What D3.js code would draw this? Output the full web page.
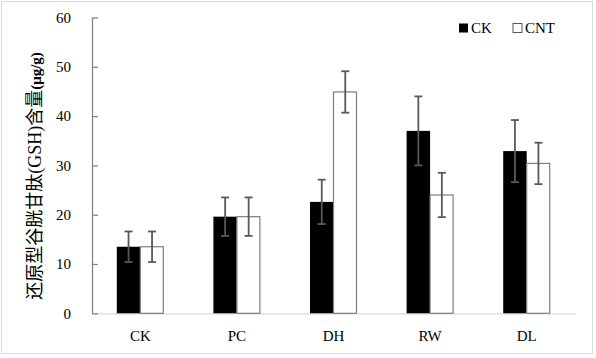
<!DOCTYPE html>
<html>
<head>
<meta charset="utf-8">
<script src="https://cdn.jsdelivr.net/npm/d3@7"></script>
<style>
  html, body { margin: 0; padding: 0; background: #fff; }
  svg { display: block; }
  .serif { font-family: "Liberation Serif", "Times New Roman", Times, serif; }
  .cjk { font-family: "Noto Sans CJK SC", sans-serif; }
</style>
</head>
<body>
<svg id="chart" width="596" height="358"></svg>
<script>
const categories = ["CK", "PC", "DH", "RW", "DL"];
const seriesNames = ["CK", "CNT"];
const ckValues = [13.5, 19.6, 22.6, 37.0, 32.9];
const ckErrors = [3.1, 3.9, 4.5, 7.0, 6.3];
const cntValues = [13.5, 19.6, 44.9, 24.0, 30.4];
const cntErrors = [3.1, 3.9, 4.2, 4.5, 4.2];
const yTicks = [0, 10, 20, 30, 40, 50, 60];

const svg = d3.select("#chart");

// chart border
svg.append("rect").attr("x", 1.5).attr("y", 1.5).attr("width", 591).attr("height", 352)
  .attr("fill", "#fff").attr("stroke", "#d9d9d9").attr("stroke-width", 1);

const x0 = 92, x1 = 575, yBottom = 313.3, yTop = 17.5;
const x = d3.scaleBand().domain(categories).range([x0, x1]).paddingInner(0).paddingOuter(0);
const y = d3.scaleLinear().domain([0, 60]).range([yBottom, yTop]);
const barW = 23.5;
const xs = d3.scaleBand().domain(seriesNames).range([-barW, barW]);

const series = [
  { name: "CK", values: ckValues, errors: ckErrors, fill: "#000000", stroke: "#000000" },
  { name: "CNT", values: cntValues, errors: cntErrors, fill: "#ffffff", stroke: "#7f7f7f" }
];

// x axis
const xAxis = svg.append("g").attr("transform", `translate(0,${yBottom})`)
  .call(d3.axisBottom(x).tickSize(0).tickPadding(17));
xAxis.attr("font-family", null);
xAxis.select(".domain").attr("stroke", "#d9d9d9").attr("stroke-width", 1.2);
xAxis.selectAll("text").attr("class", "serif").style("font-size", "15px").attr("fill", "#000");

// bars
series.forEach(s => {
  const g = svg.append("g");
  g.selectAll("rect").data(categories).join("rect")
    .attr("x", (c) => x(c) + x.bandwidth() / 2 + xs(s.name))
    .attr("y", (c, i) => y(s.values[i]))
    .attr("width", xs.bandwidth() - (s.name === "CNT" ? 0.5 : 0))
    .attr("height", (c, i) => yBottom - y(s.values[i]))
    .attr("fill", s.fill)
    .attr("stroke", s.name === "CNT" ? s.stroke : "none")
    .attr("stroke-width", 1.2);
});

// y axis
const yAxis = svg.append("g").attr("transform", `translate(${x0},0)`)
  .call(d3.axisLeft(y).tickValues(yTicks).tickSizeInner(-6).tickSizeOuter(0).tickPadding(21));
yAxis.attr("font-family", null);
yAxis.select(".domain").attr("stroke", "#868686").attr("stroke-width", 1.3);
yAxis.selectAll(".tick line").attr("stroke", "#868686").attr("stroke-width", 1.3);
yAxis.selectAll("text").attr("class", "serif").style("font-size", "15px").attr("fill", "#000");

// error bars
series.forEach(s => {
  const g = svg.append("g").attr("stroke", "#595959").attr("stroke-width", 1.8).attr("fill", "none");
  categories.forEach((c, i) => {
    const cx = x(c) + x.bandwidth() / 2 + xs(s.name) + xs.bandwidth() / 2;
    const yt = y(s.values[i] + s.errors[i]);
    const yb = y(s.values[i] - s.errors[i]);
    g.append("line").attr("x1", cx).attr("x2", cx).attr("y1", yt).attr("y2", yb);
    g.append("line").attr("x1", cx - 4).attr("x2", cx + 4).attr("y1", yt).attr("y2", yt);
    g.append("line").attr("x1", cx - 4).attr("x2", cx + 4).attr("y1", yb).attr("y2", yb);
  });
});

// legend
const legend = svg.append("g");
const legendX = [459, 513];
series.forEach((s, i) => {
  legend.append("rect").attr("x", legendX[i]).attr("y", 23.5).attr("width", 9).attr("height", 9)
    .attr("fill", s.fill).attr("stroke", s.name === "CNT" ? "#595959" : "none").attr("stroke-width", 1);
  legend.append("text").attr("x", legendX[i] + 12).attr("y", 33)
    .attr("class", "serif").style("font-size", "15px").attr("fill", "#000").text(s.name);
});

// y title
const title = svg.append("text")
  .attr("transform", "translate(41,176) rotate(-90)")
  .attr("text-anchor", "middle")
  .style("font-size", "18px")
  .attr("fill", "#000");
title.append("tspan").attr("class", "cjk").attr("fill", "#000").text("还原型谷胱甘肽");
title.append("tspan").attr("class", "serif").attr("fill", "#000").text("(GSH)");
title.append("tspan").attr("class", "cjk").attr("fill", "#000").text("含量");
title.append("tspan").attr("class", "serif").attr("fill", "#000").style("font-weight", "bold").style("font-size", "15px").text("(μg/g)");
</script>
</body>
</html>
